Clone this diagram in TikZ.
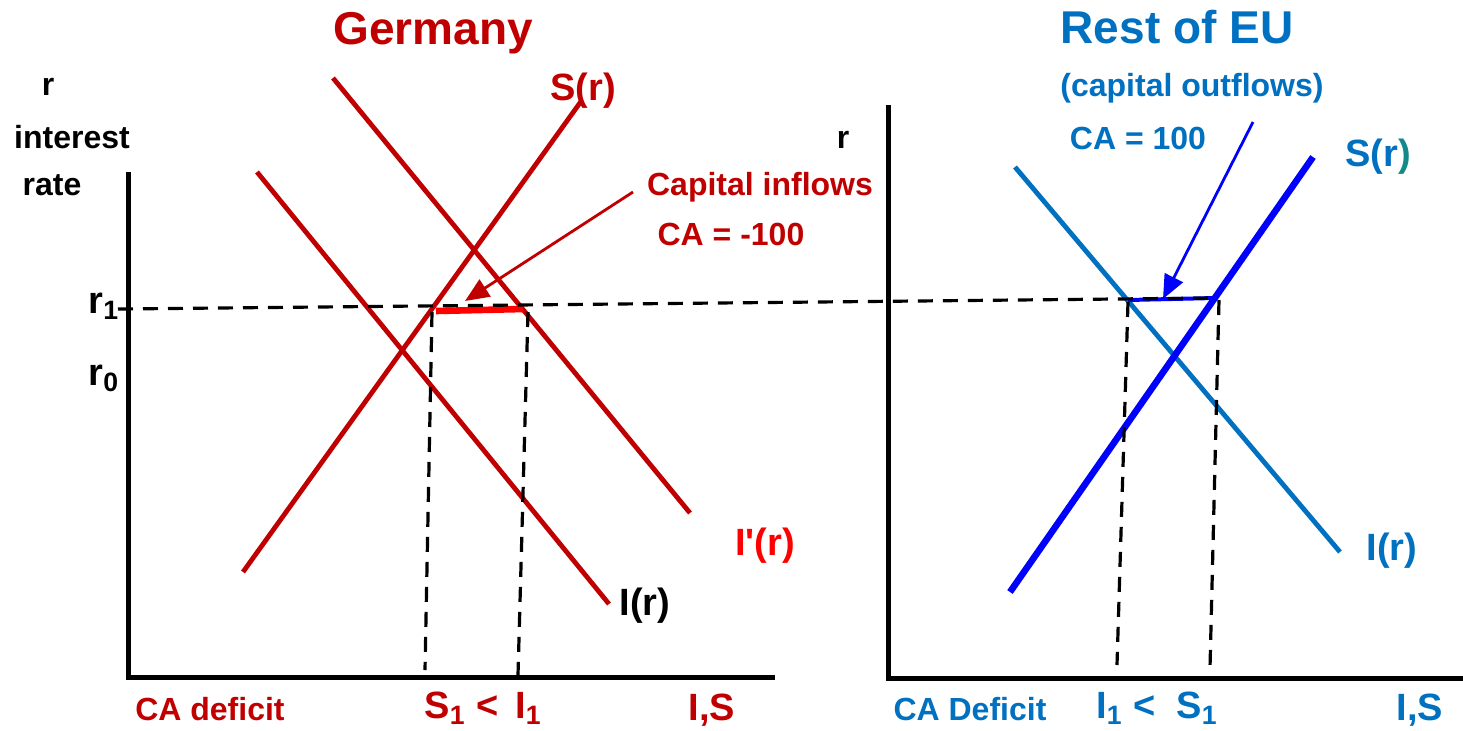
\documentclass[tikz,border=0pt]{standalone}
\usepackage{fontspec}
\setmainfont{Liberation Sans}
\usepackage{xcolor}
\usetikzlibrary{arrows.meta}
\definecolor{dred}{HTML}{C00000}
\definecolor{bred}{HTML}{FF0000}
\definecolor{eub}{HTML}{0070C0}
\definecolor{pblue}{HTML}{0000FF}
\definecolor{teal2}{HTML}{138A8A}

\begin{document}
\begin{tikzpicture}[x=0.5pt,y=-0.5pt,
  ax/.style={line width=2.5pt,line join=miter},
  curve/.style={line width=2.4pt},
  guide/.style={line width=1.6pt,dash pattern=on 7.5pt off 5pt},
  lbl/.style={font=\bfseries\fontsize{16}{18}\selectfont,anchor=base,inner sep=0pt},
  big/.style={font=\bfseries\fontsize{19}{22}\selectfont,anchor=base,inner sep=0pt},
  ttl/.style={font=\bfseries\fontsize{23}{26}\selectfont,anchor=base,inner sep=0pt}]
 \useasboundingbox (0,0) rectangle (1463,730);
 % titles and axis labels
 \node[ttl,text=dred] (tde) at (433,44) {Germany};
 \node[ttl,text=eub]  (teu) at (1177,43) {Rest of EU};
 \node[lbl,text=eub]  (out) at (1192,96) {(capital outflows)};
 \node[lbl,text=eub]  (caeu) at (1138,149) {CA = 100};
 \node[lbl] (rl) at (48,95) {r};
 \node[lbl] (irl) at (72,148) {interest};
 \node[lbl] (ral) at (52,195) {rate};
 \node[lbl] (rr) at (843,148) {r};
 \node[big] (r1) at (104,313) {r\textsubscript{1}};
 \node[big] (r0) at (104,385) {r\textsubscript{0}};
 \node[lbl,text=dred] (inf) at (760,195) {Capital inflows};
 \node[lbl,text=dred] (cade) at (731,245) {CA = -100};
 \node[big,text=dred] (sde) at (583,100) {S(r)};
 \node[big,text=bred] (ipde) at (765,555) {I\textquotesingle(r)};
 \node[big] (ide) at (645,615) {I(r)};
 \node[big,text=eub] (seu) at (1378,166) {S(r\textcolor{teal2}{)}};
 \node[big,text=eub] (ieu) at (1392,560) {I(r)};
 \node[lbl,text=dred] (defde) at (210,720) {CA deficit};
 \node[big,text=dred] (cmpde) at (483,718) {S\textsubscript{1} <\, I\textsubscript{1}};
 \node[big,text=dred] (isde) at (712,720) {I,S};
 \node[lbl,text=eub] (defeu) at (970,720) {CA Deficit};
 \node[big,text=eub] (cmpeu) at (1157,718) {I\textsubscript{1} <\; S\textsubscript{1}};
 \node[big,text=eub] (iseu) at (1420,720) {I,S};
 % axes
 \coordinate (ly) at (128,172); \coordinate (lo) at (128,677); \coordinate (lx) at (775,677);
 \coordinate (ry) at (888,105); \coordinate (ro) at (888,678); \coordinate (rx) at (1463,678);
 \draw[ax] (ly) -- (lo) -- (lx);
 \draw[ax] (ry) -- (ro) -- (rx);
 % curves, Germany
 \coordinate (s0) at (243,572); \coordinate (s1) at (582,100);
 \coordinate (i0) at (257,172); \coordinate (i1) at (609,604);
 \coordinate (j0) at (333,78);  \coordinate (j1) at (690,513);
 \draw[curve,dred] (s0) -- (s1);
 \draw[curve,dred] (i0) -- (i1);
 \draw[curve,dred] (j0) -- (j1);
 % curves, rest of EU
 \coordinate (ei0) at (1015,167); \coordinate (ei1) at (1340,552);
 \coordinate (es0) at (1010,592); \coordinate (es1) at (1313,157);
 \draw[curve,eub] (ei0) -- (ei1);
 \draw[line width=3.3pt,pblue] (es0) -- (es1);
 % gaps
 \coordinate (ga) at (436,311); \coordinate (gb) at (523,309);
 \coordinate (ha) at (1128,300); \coordinate (hb) at (1215,298);
 \draw[line width=3.3pt,bred] (ga) -- (gb);
 \draw[line width=2pt,pblue] (ha) -- (hb);
 % dashed guides
 \coordinate (d0) at (118,309); \coordinate (d1) at (1215,298);
 \draw[guide] (d0) -- (d1);
 \coordinate (va) at (432,312); \coordinate (vb) at (425,670);
 \coordinate (wa) at (528,312); \coordinate (wb) at (518,675);
 \coordinate (xa) at (1128,302); \coordinate (xb) at (1117,665);
 \coordinate (ya) at (1219,300); \coordinate (yb) at (1210,668);
 \draw[guide] (va) -- (vb); \draw[guide] (wa) -- (wb);
 \draw[guide] (xa) -- (xb); \draw[guide] (ya) -- (yb);
 % pointers
 \coordinate (p0) at (633,192); \coordinate (p1) at (465,301);
 \coordinate (q0) at (1253,122); \coordinate (q1) at (1163,299);
 \draw[line width=1.4pt,dred,-{Triangle[length=12pt,width=10pt]}] (p0) -- (p1);
 \draw[line width=1.4pt,pblue,-{Triangle[length=12pt,width=10pt]}] (q0) -- (q1);
\end{tikzpicture}
\end{document}
